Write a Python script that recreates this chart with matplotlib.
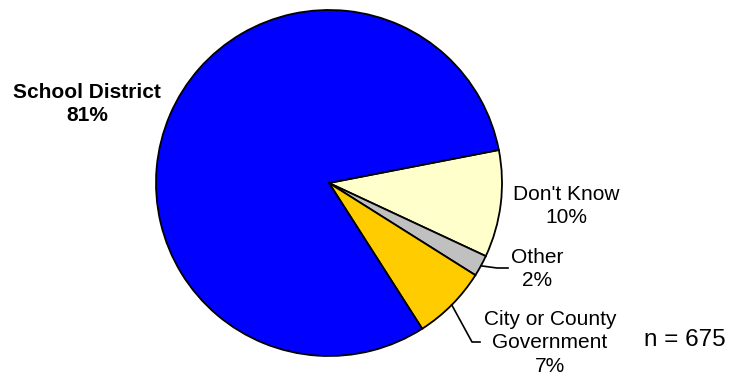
import matplotlib
matplotlib.use("Agg")
import matplotlib.pyplot as plt
import numpy as np

# survey shares, drawn clockwise from the right side of the pie
categories = ["Don't Know", "Other", "City or County\nGovernment", "School District"]
shares = [10, 2, 7, 81]
colors = ["#FFFFCC", "#C0C0C0", "#FFCC00", "#0000FF"]
sample_size = 675

W, H = 730, 379
plt.rcParams["font.family"] = ["Liberation Sans", "DejaVu Sans"]

fig = plt.figure(figsize=(W / 100, H / 100), dpi=100)
ax = fig.add_axes([0, 0, 1, 1])

cx, cy, r = 329, H - 183, 173
wedges, _ = ax.pie(shares, colors=colors, startangle=11, counterclock=False,
                   center=(cx, cy), radius=r, frame=True,
                   wedgeprops=dict(edgecolor="black", linewidth=1.3))
ax.set_xlim(0, W)
ax.set_ylim(0, H)
ax.set_aspect("equal")
ax.axis("off")


def edge_point(w):
    mid = np.deg2rad((w.theta1 + w.theta2) / 2)
    return cx + r * np.cos(mid), cy + r * np.sin(mid)


def label(text, x, y, **kw):
    ax.text(x, H - y, text, ha="center", va="center", fontsize=15,
            linespacing=1.3, multialignment="center", **kw)


pct = [f"{v}%" for v in shares]
label(f"{categories[3]}\n{pct[3]}", 87, 104, fontweight="bold")
label(f"{categories[0]}\n{pct[0]}", 566, 206)
label(f"{categories[1]}\n{pct[1]}", 537, 269)
label(f"{categories[2]}\n{pct[2]}", 550, 343)

# leader lines for the two thin slices
for w, (ex, ey), endx in [(wedges[1], (497, 268), 508), (wedges[2], (472, 342), 480)]:
    sx, sy = edge_point(w)
    ax.plot([sx, ex, endx], [sy, H - ey, H - ey], color="black", lw=1.2)

ax.text(685, H - 346, f"n = {sample_size}", ha="center", va="baseline", fontsize=17.5)

fig.savefig("out.png", dpi=100)
